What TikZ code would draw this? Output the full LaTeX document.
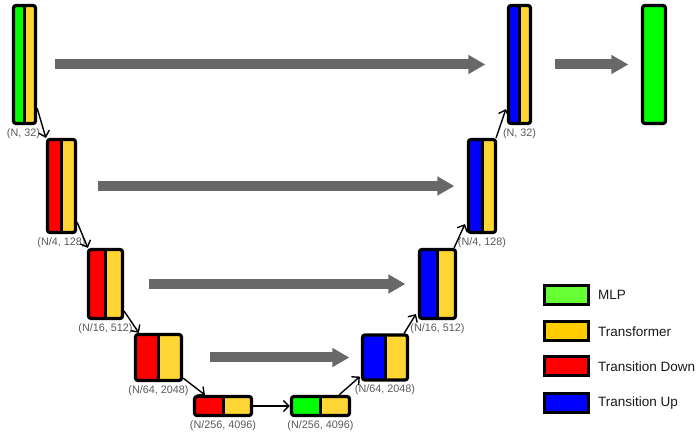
\documentclass[tikz,border=0pt]{standalone}
\usepackage{fontspec}
\setmainfont{Liberation Sans}
\usetikzlibrary{arrows.meta,calc}
\definecolor{mlpgreen}{HTML}{00FF00}
\definecolor{trfyellow}{HTML}{FFD633}
\definecolor{tdred}{HTML}{FF0000}
\definecolor{tublue}{HTML}{0000FF}
\definecolor{leggreen}{HTML}{66FF33}
\definecolor{legyellow}{HTML}{FFCC00}
\definecolor{skipgray}{HTML}{686868}
\definecolor{labgray}{HTML}{595959}
\begin{document}
\begin{tikzpicture}[x=1pt,y=-1pt,
  blk/.style={draw=black, line width=3.2pt, rounded corners=2.5pt, inner sep=0pt},
  split/.style 2 args={path picture={
      \fill[#1] (path picture bounding box.south west) rectangle (path picture bounding box.north);
      \fill[#2] (path picture bounding box.south) rectangle (path picture bounding box.north east);
      \draw[line width=3pt] (path picture bounding box.south) -- (path picture bounding box.north);}},
  skip/.style={draw=skipgray, line width=10pt, -{Triangle[length=17pt,width=18pt]}},
  conn/.style={draw=black, line width=1.4pt, -{Straight Barb[length=5.5pt,width=11pt]}},
  lab/.style={text=labgray, font=\fontsize{10.8}{12}\selectfont, inner sep=0pt},
  legbox/.style={draw=black, line width=3pt, inner sep=0pt, minimum width=44pt, minimum height=19pt},
  legtext/.style={anchor=west, font=\fontsize{13.5}{15}\selectfont, inner sep=0pt, text=black!90}
]
\useasboundingbox (0,0) rectangle (697,435);

% encoder blocks
\node[blk, split={mlpgreen}{trfyellow}, minimum width=22pt, minimum height=118pt] (b1) at (24.5,64.5) {};
\node[blk, split={tdred}{trfyellow}, minimum width=28pt, minimum height=93pt] (b2) at (61.5,186) {};
\node[blk, split={tdred}{trfyellow}, minimum width=34pt, minimum height=69pt] (b3) at (105.5,284) {};
\node[blk, split={tdred}{trfyellow}, minimum width=46pt, minimum height=46pt] (b4) at (158.5,357.5) {};
\node[blk, split={tdred}{trfyellow}, minimum width=57pt, minimum height=19pt] (b5) at (223,406) {};
% bottleneck and decoder blocks
\node[blk, split={mlpgreen}{trfyellow}, minimum width=58pt, minimum height=19pt] (b6) at (320.5,406) {};
\node[blk, split={tublue}{trfyellow}, minimum width=45pt, minimum height=45pt] (b7) at (385,357.5) {};
\node[blk, split={tublue}{trfyellow}, minimum width=36pt, minimum height=69pt] (b8) at (437.5,284) {};
\node[blk, split={tublue}{trfyellow}, minimum width=27pt, minimum height=93pt] (b9) at (482,186) {};
\node[blk, split={tublue}{trfyellow}, minimum width=22pt, minimum height=118pt] (b10) at (519.5,64.5) {};
\node[blk, fill=mlpgreen, minimum width=23pt, minimum height=118pt] (b11) at (654,64.5) {};

% labels
\node[lab] (l1) at ($(b1.south)+(-1,8.5)$) {(N, 32)};
\node[lab] (l2) at ($(b2.south)+(0,9)$) {(N/4, 128)};
\node[lab] (l3) at ($(b3.south)+(0,9)$) {(N/16, 512)};
\node[lab] (l4) at ($(b4.south)+(0,8.5)$) {(N/64, 2048)};
\node[lab] (l5) at ($(b5.south)+(0,8.5)$) {(N/256, 4096)};
\node[lab] (l6) at ($(b6.south)+(0,8.5)$) {(N/256, 4096)};
\node[lab] (l7) at ($(b7.south)+(0,8.5)$) {(N/64, 2048)};
\node[lab] (l8) at ($(b8.south)+(0,9)$) {(N/16, 512)};
\node[lab] (l9) at ($(b9.south)+(0,9)$) {(N/4, 128)};
\node[lab] (l10) at ($(b10.south)+(0,8.5)$) {(N, 32)};

% skip arrows
\draw[skip, shorten <=17.5pt, shorten >=21.5pt] (b1) -- (b10);
\draw[skip, shorten <=20.5pt, shorten >=12.5pt] (b2) -- (b9);
\draw[skip, shorten <=24.5pt, shorten >=12.5pt] (b3) -- (b8);
\draw[skip, shorten <=26.5pt, shorten >=11.5pt] (b4) -- (b7);
\draw[skip, shorten <=22.5pt, shorten >=12.5pt] (b10) -- (b11);

% connectors
\draw[conn] ($(b1.south east)+(0,-17)$) -- (b2.north west);
\draw[conn] ($(b2.south east)+(0,-12)$) -- ($(b3.north west)+(1,0)$);
\draw[conn] ($(b3.south east)+(0,-9)$) -- ($(b4.north west)+(5,0)$);
\draw[conn] ($(b4.south east)+(0,-4)$) -- ($(b5.north west)+(12,0)$);
\draw[conn] (b5.east) -- (b6.west);
\draw[conn] ($(b6.north east)+(-12,0)$) -- ($(b7.south west)+(-1,-5)$);
\draw[conn] ($(b7.north east)+(-5,0)$) -- ($(b8.south west)+(-2,-6)$);
\draw[conn] ($(b8.north east)+(-3,0)$) -- ($(b9.south west)+(-2,-10)$);
\draw[conn] ($(b9.north east)+(-1,0)$) -- ($(b10.south west)+(-1,-16)$);

% legend
\node[legbox, fill=leggreen] (k1) at (566.5,295) {};
\node[legbox, fill=legyellow] (k2) at (566.5,331.5) {};
\node[legbox, fill=tdred] (k3) at (566.5,366.5) {};
\node[legbox, fill=tublue] (k4) at (566.5,403.5) {};
\node[legtext] (t1) at (598,295) {MLP};
\node[legtext] (t2) at (598,331.5) {Transformer};
\node[legtext] (t3) at (598,367) {Transition Down};
\node[legtext] (t4) at (598,403.5) {Transition Up};
\end{tikzpicture}
\end{document}
